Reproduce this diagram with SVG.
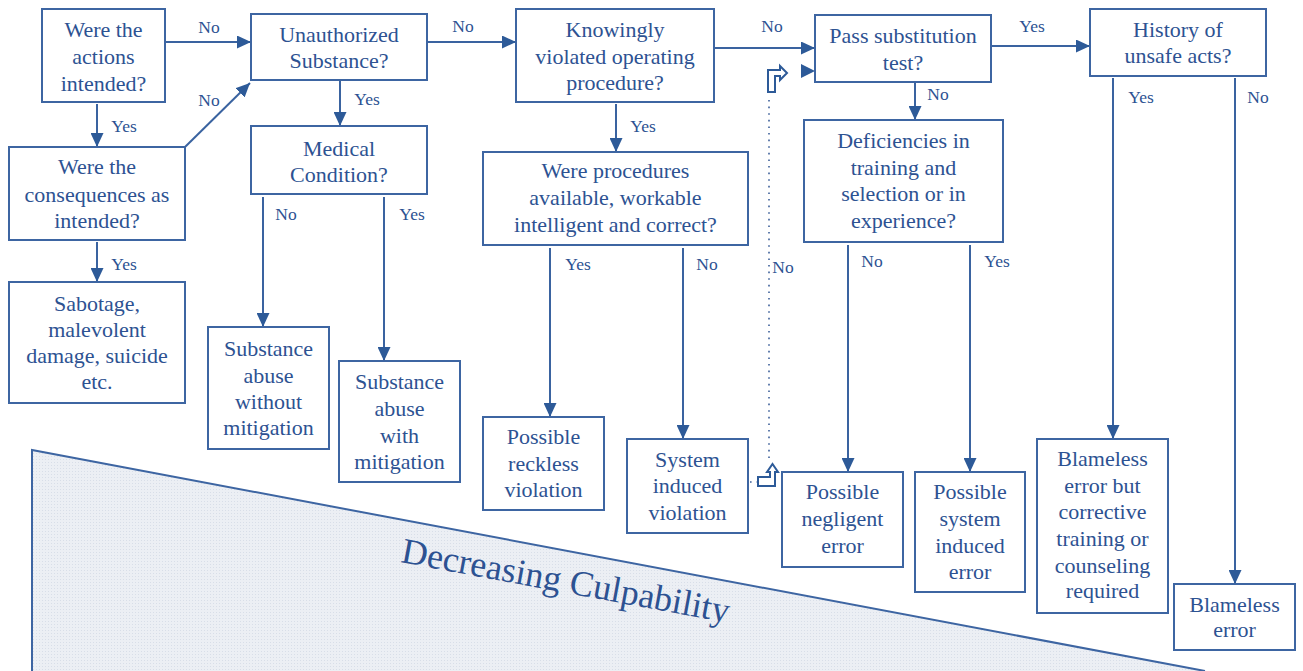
<svg xmlns="http://www.w3.org/2000/svg" width="1303" height="671" viewBox="0 0 1303 671" font-family="'Liberation Serif', 'Times New Roman', serif">
<defs>
<marker id="arr" viewBox="0 0 14 13" markerWidth="14" markerHeight="13" refX="14" refY="6.5" orient="auto" markerUnits="userSpaceOnUse">
<path d="M0,0 L14,6.5 L0,13 Z" fill="#2d5a98"/>
</marker>
<pattern id="dots" width="3" height="3" patternUnits="userSpaceOnUse">
<rect width="3" height="3" fill="#eceff4"/>
<rect width="1" height="1" fill="#d8dee8"/>
</pattern>
<style>
text{font-family:'Liberation Serif','Times New Roman',serif}
.box{fill:#fff;stroke:#3d65a2;stroke-width:2}
.t{font-family:'Liberation Serif','Times New Roman',serif;font-size:22px;fill:#2d5292;text-anchor:middle}
.l{font-family:'Liberation Serif','Times New Roman',serif;font-size:17.5px;fill:#2d5292;text-anchor:middle}
.c{fill:none;stroke:#3a63a0;stroke-width:2;marker-end:url(#arr)}
.d{fill:none;stroke:#3d5f99;stroke-width:1.6;stroke-dasharray:1.6 5}
.bent{fill:#fff;stroke:#2d5a98;stroke-width:2;stroke-linejoin:miter}
</style>
</defs>
<rect width="1303" height="671" fill="#fff"/>

<g id="culpability-wedge">
<path d="M32,450 L1205,671 L32,671 Z" fill="url(#dots)"/>
<path d="M32,671 L32,450 L1205,671" fill="none" stroke="#3d65a2" stroke-width="2"/>
<text x="400" y="562" transform="rotate(10.5 400 562)" font-size="36" fill="#2d5292">Decreasing Culpability</text>
</g>

<g id="connectors" font-family="'Liberation Serif', serif">
<line class="c" x1="165" y1="42" x2="251" y2="42"/>
<line class="c" x1="185" y1="147" x2="250" y2="83"/>
<line class="c" x1="97" y1="104" x2="97" y2="147"/>
<line class="c" x1="97" y1="242" x2="97" y2="282"/>
<line class="c" x1="427" y1="42" x2="516" y2="42"/>
<line class="c" x1="340" y1="81" x2="340" y2="126"/>
<line class="c" x1="263" y1="197" x2="263" y2="327"/>
<line class="c" x1="384" y1="197" x2="384" y2="361"/>
<line class="c" x1="714" y1="48" x2="815" y2="48"/>
<line class="c" x1="616" y1="104" x2="616" y2="152"/>
<line class="c" x1="550" y1="248" x2="550" y2="417"/>
<line class="c" x1="683" y1="248" x2="683" y2="439"/>
<line class="c" x1="991" y1="46" x2="1090" y2="46"/>
<line class="c" x1="915" y1="83" x2="915" y2="120"/>
<line class="c" x1="848" y1="245" x2="848" y2="472"/>
<line class="c" x1="970" y1="245" x2="970" y2="472"/>
<line class="c" x1="1113" y1="78" x2="1113" y2="439"/>
<line class="c" x1="1235" y1="78" x2="1235" y2="584"/>
<line class="d" x1="750" y1="482" x2="758" y2="482"/>
<line class="d" x1="769" y1="100" x2="769" y2="460"/>
<path class="bent" d="M758,477 L770,477 L770,472 L767,472 L772.5,464 L778,472 L775,472 L775,486 L758,486 Z"/>
<path class="bent" d="M768,92 L768,70 L780,70 L780,66 L787,73 L780,80 L780,76 L775,76 L775,92 Z"/>
<path d="M801,64 L815,71 L801,78 Z" fill="#2d5a98"/>
<text class="l" x="209" y="33">No</text>
<text class="l" x="209" y="106">No</text>
<text class="l" x="124" y="132">Yes</text>
<text class="l" x="124" y="270">Yes</text>
<text class="l" x="367" y="105">Yes</text>
<text class="l" x="286" y="220">No</text>
<text class="l" x="412" y="220">Yes</text>
<text class="l" x="463" y="32">No</text>
<text class="l" x="772" y="32">No</text>
<text class="l" x="643" y="132">Yes</text>
<text class="l" x="1032" y="32">Yes</text>
<text class="l" x="938" y="100">No</text>
<text class="l" x="1141" y="103">Yes</text>
<text class="l" x="1258" y="103">No</text>
<text class="l" x="578" y="270">Yes</text>
<text class="l" x="707" y="270">No</text>
<text class="l" x="783" y="273">No</text>
<text class="l" x="872" y="267">No</text>
<text class="l" x="997" y="267">Yes</text>
</g>

<g id="n-actions-intended">
<rect class="box" x="42" y="9" width="123" height="93"/>
<text class="t" x="103.5" y="37">Were the</text>
<text class="t" x="103.5" y="64">actions</text>
<text class="t" x="103.5" y="91">intended?</text>
</g>
<g id="n-unauthorized">
<rect class="box" x="251" y="14" width="176" height="66"/>
<text class="t" x="339" y="42">Unauthorized</text>
<text class="t" x="339" y="68">Substance?</text>
</g>
<g id="n-knowingly">
<rect class="box" x="516" y="9" width="198" height="93"/>
<text class="t" x="615" y="37">Knowingly</text>
<text class="t" x="615" y="64">violated operating</text>
<text class="t" x="615" y="90">procedure?</text>
</g>
<g id="n-substitution">
<rect class="box" x="815" y="15" width="176" height="67"/>
<text class="t" x="903" y="43">Pass substitution</text>
<text class="t" x="903" y="70">test?</text>
</g>
<g id="n-history">
<rect class="box" x="1090" y="9" width="176" height="67"/>
<text class="t" x="1178" y="37">History of</text>
<text class="t" x="1178" y="63">unsafe acts?</text>
</g>
<g id="n-consequences">
<rect class="box" x="9" y="147" width="176" height="93"/>
<text class="t" x="97" y="174">Were the</text>
<text class="t" x="97" y="202">consequences as</text>
<text class="t" x="97" y="228">intended?</text>
</g>
<g id="n-medical">
<rect class="box" x="251" y="126" width="176" height="68"/>
<text class="t" x="339" y="156">Medical</text>
<text class="t" x="339" y="182">Condition?</text>
</g>
<g id="n-procedures">
<rect class="box" x="483" y="152" width="265" height="93"/>
<text class="t" x="615.5" y="178">Were procedures</text>
<text class="t" x="615.5" y="205">available, workable</text>
<text class="t" x="615.5" y="232">intelligent and correct?</text>
</g>
<g id="n-deficiencies">
<rect class="box" x="804" y="120" width="199" height="122"/>
<text class="t" x="903.5" y="148">Deficiencies in</text>
<text class="t" x="903.5" y="175">training and</text>
<text class="t" x="903.5" y="201">selection or in</text>
<text class="t" x="903.5" y="228">experience?</text>
</g>
<g id="n-sabotage">
<rect class="box" x="9" y="282" width="176" height="121"/>
<text class="t" x="97" y="311">Sabotage,</text>
<text class="t" x="97" y="337">malevolent</text>
<text class="t" x="97" y="363">damage, suicide</text>
<text class="t" x="97" y="389">etc.</text>
</g>
<g id="n-abuse-without">
<rect class="box" x="208" y="327" width="121" height="122"/>
<text class="t" x="268.5" y="356">Substance</text>
<text class="t" x="268.5" y="383">abuse</text>
<text class="t" x="268.5" y="409">without</text>
<text class="t" x="268.5" y="435">mitigation</text>
</g>
<g id="n-abuse-with">
<rect class="box" x="339" y="361" width="121" height="121"/>
<text class="t" x="399.5" y="389">Substance</text>
<text class="t" x="399.5" y="416">abuse</text>
<text class="t" x="399.5" y="443">with</text>
<text class="t" x="399.5" y="469">mitigation</text>
</g>
<g id="n-reckless">
<rect class="box" x="483" y="417" width="121" height="93"/>
<text class="t" x="543.5" y="444">Possible</text>
<text class="t" x="543.5" y="471">reckless</text>
<text class="t" x="543.5" y="497">violation</text>
</g>
<g id="n-system-violation">
<rect class="box" x="627" y="439" width="121" height="94"/>
<text class="t" x="687.5" y="467">System</text>
<text class="t" x="687.5" y="493">induced</text>
<text class="t" x="687.5" y="520">violation</text>
</g>
<g id="n-negligent">
<rect class="box" x="782" y="472" width="121" height="95"/>
<text class="t" x="842.5" y="499">Possible</text>
<text class="t" x="842.5" y="526">negligent</text>
<text class="t" x="842.5" y="553">error</text>
</g>
<g id="n-system-error">
<rect class="box" x="915" y="472" width="110" height="120"/>
<text class="t" x="970" y="499">Possible</text>
<text class="t" x="970" y="526">system</text>
<text class="t" x="970" y="553">induced</text>
<text class="t" x="970" y="579">error</text>
</g>
<g id="n-blameless-corrective">
<rect class="box" x="1037" y="439" width="131" height="174"/>
<text class="t" x="1102.5" y="466">Blameless</text>
<text class="t" x="1102.5" y="493">error but</text>
<text class="t" x="1102.5" y="519">corrective</text>
<text class="t" x="1102.5" y="546">training or</text>
<text class="t" x="1102.5" y="573">counseling</text>
<text class="t" x="1102.5" y="598">required</text>
</g>
<g id="n-blameless">
<rect class="box" x="1174" y="584" width="121" height="66"/>
<text class="t" x="1234.5" y="612">Blameless</text>
<text class="t" x="1234.5" y="637">error</text>
</g>
</svg>
